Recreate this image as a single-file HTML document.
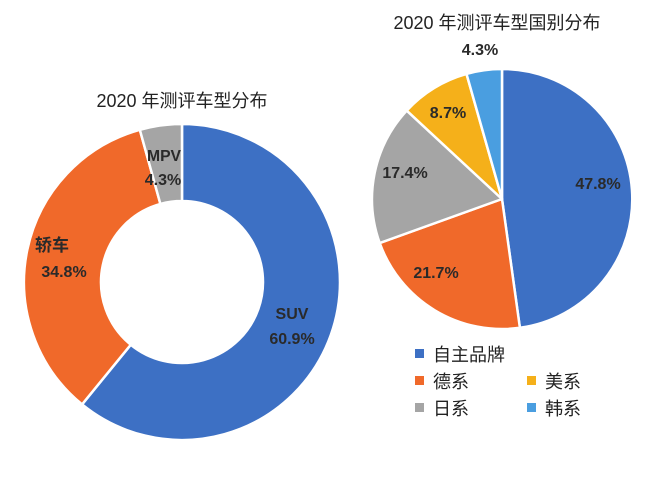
<!DOCTYPE html>
<html><head><meta charset="utf-8"><style>
html,body{margin:0;padding:0;background:#fff;}
svg{display:block;}
text{font-family:"Liberation Sans","Noto Sans CJK SC",sans-serif;}
</style></head><body>
<svg width="650" height="479" viewBox="0 0 650 479" xmlns="http://www.w3.org/2000/svg">
<rect width="650" height="479" fill="#fff"/>
<g stroke="#fff" stroke-width="2.5" stroke-linejoin="round">
<path d="M182,124 A158,158 0 1 1 82.05,404.4 L130.76,344.73 A81,81 0 1 0 182,201 Z" fill="#3d70c4"/>
<path d="M82.05,404.4 A158,158 0 0 1 139.83,129.74 L160.38,203.94 A81,81 0 0 0 130.76,344.73 Z" fill="#f0692a"/>
<path d="M139.83,129.74 A158,158 0 0 1 182,124 L182,201 A81,81 0 0 0 160.38,203.94 Z" fill="#a5a5a5"/>
<path d="M502,199 L502,69 A130,130 0 0 1 519.9,327.8 Z" fill="#3d70c4"/>
<path d="M502,199 L519.9,327.8 A130,130 0 0 1 379.7,243.0 Z" fill="#f0692a"/>
<path d="M502,199 L379.7,243.0 A130,130 0 0 1 406.7,110.6 Z" fill="#a5a5a5"/>
<path d="M502,199 L406.7,110.6 A130,130 0 0 1 466.5,73.9 Z" fill="#f5b01a"/>
<path d="M502,199 L466.5,73.9 A130,130 0 0 1 502,69 Z" fill="#4a9ee0"/>
</g>
<g fill="#222" font-size="18">
<text x="182" y="107" text-anchor="middle">2020 年测评车型分布</text>
<text x="497" y="29" text-anchor="middle">2020 年测评车型国别分布</text>
</g>
<g fill="#2a2a2a" font-size="16" font-weight="bold" text-anchor="middle" transform="scale(1,1)">
<text x="164" y="161" textLength="34" lengthAdjust="spacingAndGlyphs">MPV</text>
<text x="163" y="185">4.3%</text>
<text x="52" y="251" font-size="17">轿车</text>
<text x="64" y="277">34.8%</text>
<text x="292" y="319">SUV</text>
<text x="292" y="344">60.9%</text>
<text x="598" y="189">47.8%</text>
<text x="436" y="278">21.7%</text>
<text x="405" y="178">17.4%</text>
<text x="448" y="118">8.7%</text>
<text x="480" y="55">4.3%</text>
</g>
<g font-size="18" fill="#222">
<rect x="415" y="349" width="9" height="9" fill="#3d70c4"/><text x="433" y="361">自主品牌</text>
<rect x="415" y="376" width="9" height="9" fill="#f0692a"/><text x="433" y="388">德系</text>
<rect x="527" y="376" width="9" height="9" fill="#f5b01a"/><text x="545" y="388">美系</text>
<rect x="415" y="403" width="9" height="9" fill="#a5a5a5"/><text x="433" y="415">日系</text>
<rect x="527" y="403" width="9" height="9" fill="#4a9ee0"/><text x="545" y="415">韩系</text>
</g>
</svg>
</body></html>
